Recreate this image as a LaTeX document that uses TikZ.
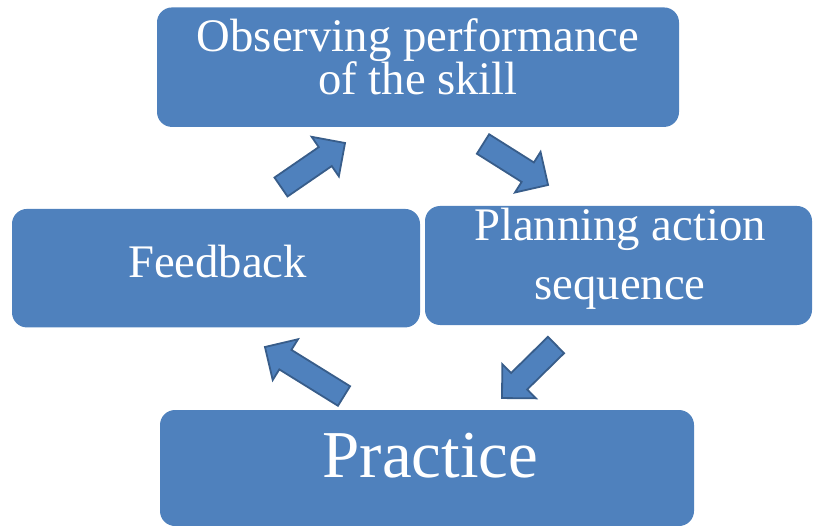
\documentclass[tikz,border=0pt]{standalone}
\usepackage{fontspec}
\setmainfont{Liberation Serif}
\definecolor{boxblue}{HTML}{4F81BD}
\definecolor{arrowedge}{HTML}{385D8A}
\tikzset{
  box/.style={fill=boxblue, rounded corners=15pt, inner sep=0pt},
  lbl/.style={text=white, anchor=base, inner sep=0pt, font=\fontsize{46.7}{50}\selectfont},
  biglbl/.style={lbl, font=\fontsize{67}{70}\selectfont},
  blk/.style={fill=boxblue, draw=arrowedge, line width=1.8pt, line join=miter},
}
\newcommand\bkarrow[4]{%
  \draw[blk, shift={(#1,#2)}, rotate=#3] (0,-11.5) -- ({#4-24},-11.5) -- ({#4-24},-24) -- (#4,0) -- ({#4-24},24) -- ({#4-24},11.5) -- (0,11.5) -- cycle;}
\begin{document}
\begin{tikzpicture}[x=1pt, y=-1pt]
\useasboundingbox (0,0) rectangle (813,526);
\clip (0,0) rectangle (813,526);
% boxes
\node[box, minimum width=522pt, minimum height=119.5pt] (obs) at (418,67.2) {};
\node[box, minimum width=408pt, minimum height=118.5pt] (feed) at (216,268.2) {};
\node[box, minimum width=387pt, minimum height=119pt] (plan) at (618.5,265.5) {};
\node[box, minimum width=534pt, minimum height=116pt] (prac) at (427,468) {};
% texts
\node[lbl] (obsA) at (418,52) {Observing performance};
\node[lbl] (obsB) at (418,95) {of the skill};
\node[lbl] (feedT) at (217.5,277.7) {Feedback};
\node[lbl] (planA) at (620,241) {Planning action};
\node[lbl] (planB) at (620,300) {sequence};
\node[biglbl] (pracT) at (430.5,477) {Practice};
% block arrows
\bkarrow{281}{187}{34.5}{77.7}
\bkarrow{483}{144}{-32.2}{76.9}
\bkarrow{344}{396}{148.2}{93}
\bkarrow{556}{345}{-135.5}{75.7}
\end{tikzpicture}
\end{document}
